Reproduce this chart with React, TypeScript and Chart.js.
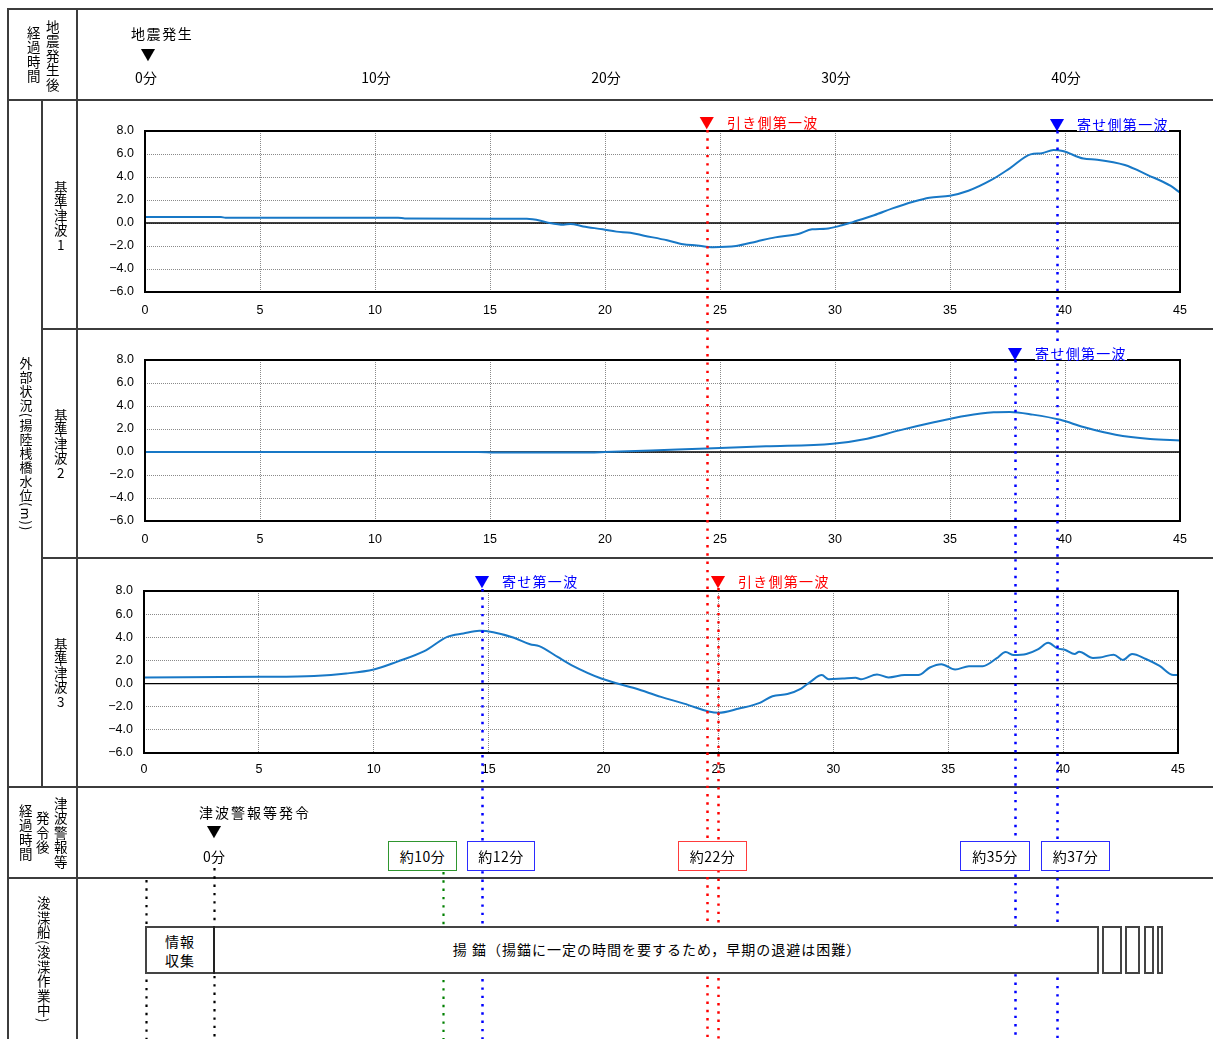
import React, { useEffect, useRef } from "react";
import { Chart, registerables } from "chart.js";
Chart.register(...registerables);

// ---------- data ----------
const X_TICKS = [0, 5, 10, 15, 20, 25, 30, 35, 40, 45];
const Y_TICKS = [-6, -4, -2, 0, 2, 4, 6, 8];
const HEADER_MINUTES = [0, 10, 20, 30, 40];

const WAVE1_T = [0, 3.3, 3.5, 11.0, 11.3, 15.0, 16.6, 17.2, 17.6, 18.2, 18.5, 19.05, 19.9, 20.5, 21.1, 21.7, 22.7, 23.4, 24.0, 24.7, 25.7, 26.6, 27.4, 28.4, 29.0, 29.6, 30.3, 30.8, 31.7, 32.5, 33.4, 34.1, 35.0, 35.8, 36.8, 37.6, 38.5, 39.0, 39.5, 39.9, 40.8, 41.4, 42.6, 43.6, 44.6, 45.0];
const WAVE1_V = [0.52, 0.52, 0.46, 0.46, 0.40, 0.38, 0.36, 0.20, 0.0, -0.15, -0.08, -0.3, -0.55, -0.75, -0.85, -1.1, -1.5, -1.85, -1.95, -2.1, -2.0, -1.6, -1.25, -0.95, -0.55, -0.5, -0.2, 0.1, 0.67, 1.27, 1.85, 2.2, 2.37, 2.8, 3.74, 4.75, 5.97, 6.07, 6.35, 6.26, 5.6, 5.5, 5.04, 4.17, 3.22, 2.64];

const WAVE2_T = [0, 14.5, 15.2, 19.0, 20.0, 22.0, 24.1, 27.0, 29.9, 31.4, 32.8, 34.3, 35.7, 36.9, 37.6, 38.6, 39.8, 40.8, 42.2, 43.7, 45];
const WAVE2_V = [0.0, 0.0, -0.04, -0.04, 0.0, 0.12, 0.29, 0.49, 0.72, 1.16, 1.88, 2.58, 3.16, 3.45, 3.48, 3.25, 2.8, 2.17, 1.5, 1.13, 1.0];

const WAVE3_T = [0, 5.07, 7.4, 8.8, 10.0, 11.0, 12.2, 13.2, 13.9, 14.6, 15.2, 16.1, 16.8, 17.2, 18.0, 18.6, 19.9, 21.4, 22.5, 23.5, 25.0, 25.9, 26.8, 27.35, 28.0, 28.6, 29.0, 29.5, 29.8, 30.4, 30.97, 31.2, 31.9, 32.4, 33.1, 33.7, 34.2, 34.7, 35.3, 35.9, 36.5, 37.1, 37.5, 37.85, 38.4, 38.9, 39.35, 39.75, 40.1, 40.5, 40.7, 41.3, 41.6, 42.2, 42.6, 43.0, 43.6, 44.2, 44.8, 45];
const WAVE3_V = [0.53, 0.58, 0.66, 0.87, 1.22, 1.88, 2.8, 4.04, 4.33, 4.56, 4.44, 3.96, 3.4, 3.24, 2.3, 1.6, 0.44, -0.43, -1.15, -1.73, -2.53, -2.16, -1.67, -1.09, -0.9, -0.43, 0.15, 0.73, 0.38, 0.44, 0.5, 0.38, 0.79, 0.53, 0.73, 0.73, 1.39, 1.68, 1.22, 1.5, 1.5, 2.17, 2.72, 2.46, 2.55, 2.95, 3.53, 3.04, 2.9, 2.55, 2.75, 2.22, 2.25, 2.5, 2.03, 2.55, 2.12, 1.53, 0.73, 0.73];

// marker times (minutes after earthquake)
const MARKER_T = [24.43, 24.91, 39.65, 37.83, 14.65, 12.96, 0.05, 3.0];
const WARNING_T = 3.0;
const ELAPSED_LABELS = ["約10分", "約12分", "約22分", "約35分", "約37分"];

// ---------- layout / style ----------
const FONT = "'Noto Sans CJK JP', 'Noto Sans', sans-serif";
const TICK_FONT = "'Liberation Sans', Arial, sans-serif";
const PLOT_L = 145;
const PLOT_R = 1180;
const px = (t: number) => PLOT_L + (t * (PLOT_R - PLOT_L)) / 45;
const RED = "#ff0000";
const BLUE = "#0000ff";
const GREEN = "#008000";
const LINE = "#3c3c3c";

const MARKER_STYLE = [
  { color: RED, y0: 130, y1: 1039, w: 2.5 },
  { color: RED, y0: 588, y1: 1039, w: 2.5 },
  { color: BLUE, y0: 131, y1: 1039, w: 2.5 },
  { color: BLUE, y0: 360, y1: 1039, w: 2.5 },
  { color: BLUE, y0: 589, y1: 1039, w: 2.5 },
  { color: GREEN, y0: 872, y1: 1039, w: 2.2 },
  { color: "#000", y0: 880, y1: 1039, w: 2.2 },
  { color: "#000", y0: 868, y1: 1039, w: 2.2 },
];

const BOX_STYLE = [
  { l: 388, r: 457, color: "#2f962f" },
  { l: 467, r: 535, color: "#2b2bff" },
  { l: 678, r: 747, color: "#ff3b3b" },
  { l: 960, r: 1030, color: "#2b2bff" },
  { l: 1041, r: 1110, color: "#2b2bff" },
];

const fmtY = (v: number) => (v < 0 ? "\u2212" + Math.abs(v).toFixed(1) : v.toFixed(1));

const framePlugin = {
  id: "frame",
  beforeDatasetsDraw(chart: any) {
    const { ctx, chartArea } = chart;
    const y = chart.scales.y.getPixelForValue(0);
    ctx.save();
    ctx.strokeStyle = "#000";
    ctx.lineWidth = 1.3;
    ctx.beginPath();
    ctx.moveTo(chartArea.left, y);
    ctx.lineTo(chartArea.right, y);
    ctx.stroke();
    ctx.restore();
  },
  afterDatasetsDraw(chart: any) {
    const { ctx, chartArea } = chart;
    ctx.save();
    ctx.strokeStyle = "#000";
    ctx.lineWidth = 2;
    ctx.strokeRect(chartArea.left, chartArea.top, chartArea.right - chartArea.left, chartArea.bottom - chartArea.top);
    ctx.restore();
  },
};

const PAD_L = 60, PAD_R = 20, PAD_T = 22, PAD_B = 30;

function WaveChart({ times, values, L, R, T, B, xPad }: any) {
  const ref = useRef<HTMLCanvasElement>(null);
  const w = R - L + PAD_L + PAD_R;
  const h = B - T + PAD_T + PAD_B;
  useEffect(() => {
    const chart = new Chart(ref.current as HTMLCanvasElement, {
      type: "line",
      data: {
        datasets: [
          {
            data: times.map((t: number, i: number) => ({ x: t, y: values[i] })),
            borderColor: "#1878c6",
            borderWidth: 2,
            pointRadius: 0,
            fill: false,
            cubicInterpolationMode: "monotone",
          },
        ],
      },
      options: {
        animation: false,
        responsive: false,
        maintainAspectRatio: false,
        devicePixelRatio: 1,
        events: [],
        layout: { padding: { left: 0, right: PAD_R, top: PAD_T, bottom: 0 } },
        plugins: { legend: { display: false }, tooltip: { enabled: false } },
        scales: {
          x: {
            type: "linear",
            min: 0,
            max: 45,
            afterFit: (s: any) => { s.height = PAD_B; },
            afterBuildTicks: (s: any) => { s.ticks = X_TICKS.map((v) => ({ value: v })); },
            ticks: { padding: xPad, color: "#000", font: { family: TICK_FONT, size: 12.5 }, maxRotation: 0, autoSkip: false },
            grid: { color: "#8a8a8a", lineWidth: 1, drawTicks: false },
            border: { display: false, dash: [1, 1] },
          },
          y: {
            type: "linear",
            min: -6,
            max: 8,
            afterFit: (s: any) => { s.width = PAD_L; },
            afterBuildTicks: (s: any) => { s.ticks = Y_TICKS.map((v) => ({ value: v })); },
            ticks: { padding: 11, color: "#000", font: { family: TICK_FONT, size: 12.5 }, callback: (v: any) => fmtY(Number(v)) },
            grid: { color: "#8a8a8a", lineWidth: 1, drawTicks: false },
            border: { display: false, dash: [1, 1] },
          },
        },
      } as any,
      plugins: [framePlugin],
    });
    return () => chart.destroy();
  }, []);
  return (
    <canvas
      ref={ref}
      width={w}
      height={h}
      style={{ position: "absolute", left: L - PAD_L, top: T - PAD_T, width: w, height: h, zIndex: 1 }}
    />
  );
}

const markerPlugin = {
  id: "markers",
  afterDraw(chart: any) {
    const { ctx } = chart;
    const xs = chart.scales.x;
    const ys = chart.scales.y;
    ctx.save();
    MARKER_T.forEach((t, i) => {
      const st = MARKER_STYLE[i];
      const x = Math.round(xs.getPixelForValue(t)) + 0.5;
      ctx.strokeStyle = st.color;
      ctx.lineWidth = st.w;
      ctx.setLineDash([2.4, 5.9]);
      ctx.beginPath();
      ctx.moveTo(x, ys.getPixelForValue(st.y0));
      ctx.lineTo(x, ys.getPixelForValue(st.y1));
      ctx.stroke();
    });
    ctx.restore();
  },
};

function Overlay() {
  const ref = useRef<HTMLCanvasElement>(null);
  useEffect(() => {
    const chart = new Chart(ref.current as HTMLCanvasElement, {
      type: "scatter",
      data: { datasets: [] },
      options: {
        animation: false,
        responsive: false,
        maintainAspectRatio: false,
        devicePixelRatio: 1,
        events: [],
        layout: { padding: { left: PLOT_L, right: 1213 - PLOT_R, top: 0, bottom: 0 } },
        plugins: { legend: { display: false }, tooltip: { enabled: false } },
        scales: {
          x: { type: "linear", min: 0, max: 45, display: false },
          y: { type: "linear", min: 0, max: 1039, reverse: true, display: false },
        },
      } as any,
      plugins: [markerPlugin],
    });
    return () => chart.destroy();
  }, []);
  return (
    <canvas
      ref={ref}
      width={1213}
      height={1039}
      style={{ position: "absolute", left: 0, top: 0, width: 1213, height: 1039, zIndex: 2, pointerEvents: "none" }}
    />
  );
}

function Txt({ x, y, children, size = 14, color = "#000", ls = 1.5, anchor = "center", bg }: any) {
  return (
    <div
      style={{
        position: "absolute",
        left: x,
        top: y,
        transform: anchor === "center" ? "translate(-50%,-50%)" : "translate(0,-50%)",
        fontSize: size,
        color,
        letterSpacing: ls,
        whiteSpace: "nowrap",
        lineHeight: 1,
        fontFamily: FONT,
        background: bg,
        zIndex: 3,
      }}
    >
      {children}
    </div>
  );
}

function VTxt({ x, y, children, size = 13.5, ls = 1 }: any) {
  return (
    <div
      style={{
        position: "absolute",
        left: x,
        top: y,
        transform: "translate(-50%,-50%)",
        writingMode: "vertical-rl",
        fontSize: size,
        letterSpacing: ls,
        lineHeight: 1,
        whiteSpace: "nowrap",
        fontFamily: FONT,
        color: "#000",
        zIndex: 3,
      }}
    >
      {children}
    </div>
  );
}

const Up = ({ c }: any) => <span style={{ textCombineUpright: "all" } as any}>{c}</span>;

function HLine({ x0, x1, y }: any) {
  return <div style={{ position: "absolute", left: x0, top: y - 1, width: x1 - x0, height: 2, background: LINE, zIndex: 0 }} />;
}
function VLine({ x, y0, y1 }: any) {
  return <div style={{ position: "absolute", left: x - 1, top: y0, width: 2, height: y1 - y0, background: LINE, zIndex: 0 }} />;
}

function Marker({ t, y, color, text }: any) {
  return (
    <>
      <Txt x={px(t)} y={y} size={15} color={color} ls={0}>▼</Txt>
      <Txt x={px(t) + 20} y={y + 1} size={14} color={color} ls={1.3} anchor="left" bg="#fff">{text}</Txt>
    </>
  );
}

export default function App() {
  return (
    <div style={{ position: "absolute", left: 0, top: 0, width: 1213, height: 1039, overflow: "hidden", background: "#fff", fontFamily: FONT }}>
      {/* table lines */}
      <HLine x0={7} x1={1213} y={9} />
      <HLine x0={7} x1={1213} y={100} />
      <HLine x0={42} x1={1213} y={329} />
      <HLine x0={42} x1={1213} y={558} />
      <HLine x0={7} x1={1213} y={787} />
      <HLine x0={7} x1={1213} y={878} />
      <VLine x={8} y0={8} y1={1039} />
      <VLine x={77} y0={8} y1={1039} />
      <VLine x={42} y0={100} y1={787} />

      {/* header row */}
      <VTxt x={33} y={55}>経過時間</VTxt>
      <VTxt x={52} y={56}>地震発生後</VTxt>
      <Txt x={131} y={33} anchor="left" ls={1.6}>地震発生</Txt>
      <Txt x={px(0) + 3} y={53} size={15} ls={0}>▼</Txt>
      {HEADER_MINUTES.map((m) => (
        <Txt key={m} x={px(m) + 1} y={77} ls={0}>{m}分</Txt>
      ))}

      {/* left labels of chart rows */}
      <VTxt x={26} y={444} size={13}>外部状況(揚陸桟橋水位(m))</VTxt>
      <VTxt x={60} y={216} ls={0.5}>基準津波<Up c="1" /></VTxt>
      <VTxt x={60} y={444} ls={0.5}>基準津波<Up c="2" /></VTxt>
      <VTxt x={60} y={673} ls={0.5}>基準津波<Up c="3" /></VTxt>

      {/* charts */}
      <WaveChart times={WAVE1_T} values={WAVE1_V} L={145} R={1180} T={131} B={292} xPad={11} />
      <WaveChart times={WAVE2_T} values={WAVE2_V} L={145} R={1180} T={360} B={521} xPad={11} />
      <WaveChart times={WAVE3_T} values={WAVE3_V} L={144} R={1178} T={591} B={753} xPad={9} />

      <Overlay />

      {/* wave markers */}
      <Marker t={MARKER_T[0]} y={121} color={RED} text="引き側第一波" />
      <Marker t={MARKER_T[2]} y={123} color={BLUE} text="寄せ側第一波" />
      <Marker t={MARKER_T[3]} y={352} color={BLUE} text="寄せ側第一波" />
      <Marker t={MARKER_T[4]} y={580} color={BLUE} text="寄せ第一波" />
      <Marker t={MARKER_T[1]} y={580} color={RED} text="引き側第一波" />

      {/* warning row */}
      <VTxt x={25} y={833}>経過時間</VTxt>
      <VTxt x={42} y={833}>発令後</VTxt>
      <VTxt x={60} y={833}>津波警報等</VTxt>
      <Txt x={199} y={812} anchor="left" ls={2}>津波警報等発令</Txt>
      <Txt x={px(WARNING_T)} y={830} size={15} ls={0}>▼</Txt>
      <Txt x={px(WARNING_T)} y={856} ls={0}>0分</Txt>
      {ELAPSED_LABELS.map((lab, i) => {
        const b = BOX_STYLE[i];
        return (
          <div
            key={lab}
            style={{
              position: "absolute",
              left: b.l,
              top: 841,
              width: b.r - b.l,
              height: 30,
              boxSizing: "border-box",
              border: `1.5px solid ${b.color}`,
              background: "#fff",
              zIndex: 3,
              display: "flex",
              alignItems: "center",
              justifyContent: "center",
              fontSize: 14,
              fontFamily: FONT,
              letterSpacing: 0.5,
              color: "#000",
            }}
          >
            {lab}
          </div>
        );
      })}

      {/* dredger row */}
      <VTxt x={43} y={960}>浚渫船(浚渫作業中)</VTxt>
      <div style={{ position: "absolute", left: 145, top: 926, width: 954, height: 48, boxSizing: "border-box", border: "2px solid #444", background: "#fff", zIndex: 3 }} />
      <div style={{ position: "absolute", left: 213, top: 926, width: 2, height: 48, background: "#222", zIndex: 4 }} />
      <Txt x={180} y={941} ls={1}>情報</Txt>
      <Txt x={180} y={960} ls={1}>収集</Txt>
      <Txt x={657} y={949} ls={1}>揚 錨（揚錨に一定の時間を要するため，早期の退避は困難）</Txt>
      {[
        [1102, 1122],
        [1125, 1140],
        [1144, 1154],
        [1157, 1163],
      ].map(([l, r]) => (
        <div key={l} style={{ position: "absolute", left: l, top: 926, width: r - l, height: 48, boxSizing: "border-box", border: "2px solid #444", background: "#fff", zIndex: 3 }} />
      ))}
    </div>
  );
}
